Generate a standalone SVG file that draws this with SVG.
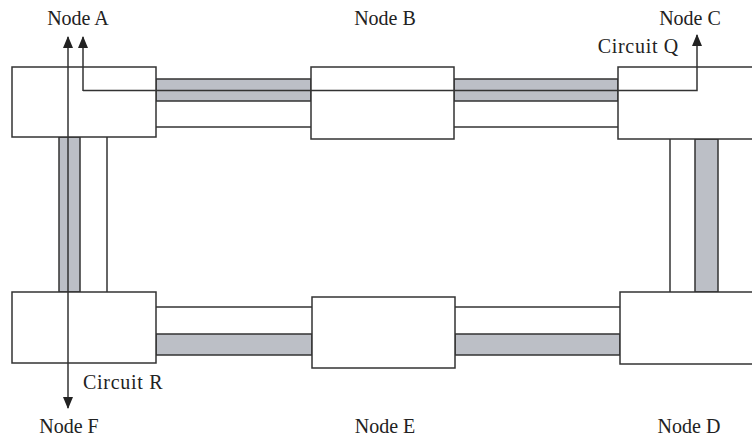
<svg xmlns="http://www.w3.org/2000/svg" width="752" height="441" viewBox="0 0 752 441">
<defs>
<style>
.box{fill:#fff;stroke:#333;stroke-width:1.5}
.band{fill:#bcbfc6;stroke:#333;stroke-width:1.5}
.ln{fill:none;stroke:#333;stroke-width:1.5}
.lbl{font-family:"Liberation Serif","Times New Roman",serif;font-size:20px;fill:#222}
.cir{letter-spacing:0.7px}
</style>
<marker id="arr" viewBox="0 0 12 10" refX="11" refY="5" markerWidth="12" markerHeight="10" markerUnits="userSpaceOnUse" orient="auto">
<path d="M0,0 L12,5 L0,10 Z" fill="#222"/>
</marker>
</defs>
<rect width="752" height="441" fill="#fff"/>
<g id="links">
<rect class="band" x="156" y="79" width="155" height="22"/>
<line class="ln" x1="156" y1="127" x2="311" y2="127"/>
<rect class="band" x="454" y="79" width="164" height="22"/>
<line class="ln" x1="454" y1="127" x2="618" y2="127"/>
<rect class="band" x="59" y="137" width="21" height="155"/>
<line class="ln" x1="107" y1="137" x2="107" y2="292"/>
<line class="ln" x1="670" y1="139" x2="670" y2="292"/>
<rect class="band" x="695" y="139" width="23" height="153"/>
<line class="ln" x1="156" y1="307" x2="312" y2="307"/>
<rect class="band" x="156" y="334" width="156" height="21"/>
<line class="ln" x1="455" y1="307" x2="620" y2="307"/>
<rect class="band" x="455" y="334" width="165" height="21"/>
</g>
<g id="node-a"><rect class="box" x="12" y="67" width="144" height="70"/></g>
<g id="node-b"><rect class="box" x="311" y="67" width="143" height="72"/></g>
<g id="node-c"><rect class="box" x="618" y="67" width="140" height="72"/></g>
<g id="node-d"><rect class="box" x="620" y="292" width="140" height="72"/></g>
<g id="node-e"><rect class="box" x="312" y="297" width="143" height="71"/></g>
<g id="node-f"><rect class="box" x="12" y="292" width="144" height="71"/></g>
<g id="circuits">
<polyline class="ln" points="83,90.5 697,90.5 697,35" marker-end="url(#arr)"/>
<line class="ln" x1="83" y1="91" x2="83" y2="37" marker-end="url(#arr)"/>
<line class="ln" x1="68" y1="220" x2="68" y2="37" marker-end="url(#arr)"/>
<line class="ln" x1="68" y1="220" x2="68" y2="408" marker-end="url(#arr)"/>
</g>
<g id="labels">
<text class="lbl" x="78" y="25" text-anchor="middle">Node A</text>
<text class="lbl" x="385" y="25" text-anchor="middle">Node B</text>
<text class="lbl" x="690" y="25" text-anchor="middle">Node C</text>
<text class="lbl cir" x="679" y="53" text-anchor="end">Circuit Q</text>
<text class="lbl cir" x="83" y="389">Circuit R</text>
<text class="lbl" x="69" y="433" text-anchor="middle">Node F</text>
<text class="lbl" x="385" y="433" text-anchor="middle">Node E</text>
<text class="lbl" x="689" y="433" text-anchor="middle">Node D</text>
</g>
</svg>
